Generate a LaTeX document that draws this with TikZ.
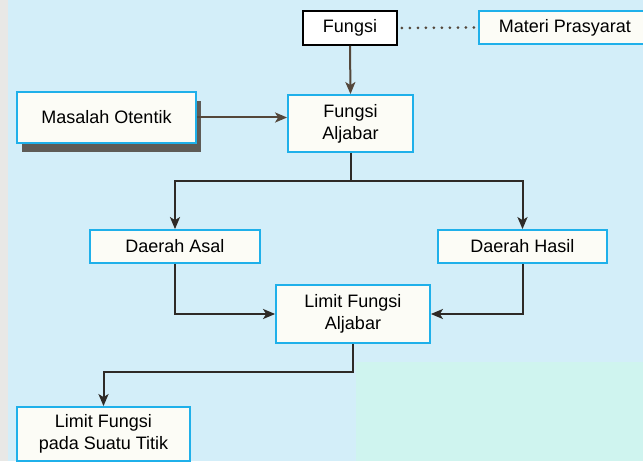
\documentclass[tikz,border=0pt]{standalone}
\usepackage{fontspec}
\setmainfont{Liberation Sans}
\usetikzlibrary{arrows.meta,shadows}
\definecolor{bgblue}{HTML}{D3EEF9}
\definecolor{panelcyan}{HTML}{CFF4EF}
\definecolor{stripgrey}{HTML}{E8E8E6}
\definecolor{boxcyan}{HTML}{1FB0EA}
\definecolor{boxfill}{HTML}{FCFCF6}
\definecolor{linkbrown}{HTML}{54473B}
\definecolor{linkdark}{HTML}{2E2A27}
\definecolor{shadowgrey}{HTML}{5E5B57}
\begin{document}
\begin{tikzpicture}[
   x=1pt,y=1pt,
   box/.style={draw=boxcyan,fill=boxfill,line width=1.8pt,align=center,
     inner sep=0pt,font=\fontsize{18}{22}\selectfont},
   topbox/.style={box,draw=black,fill=white},
   link/.style={draw=linkdark,line width=2pt,
     -{Stealth[length=12pt,width=10pt,inset=3pt,fill=linkdark]}},
   brownlink/.style={draw=linkbrown,line width=2pt,
     -{Stealth[length=12pt,width=10pt,inset=3pt,fill=linkbrown]}}
 ]
  \useasboundingbox (0,0) rectangle (643,461);
  \clip (0,0) rectangle (643,461);
  \fill[bgblue] (0,0) rectangle (643,461);
  \fill[stripgrey] (0,0) rectangle (8,461);
  \fill[panelcyan] (356,0) rectangle (643,99);

  \node[topbox,minimum width=94,minimum height=34] (fungsi) at (350,433) {Fungsi};
  \node[box,minimum width=172,minimum height=33] (materi) at (565,433.5) {Materi Prasyarat};
  \node[box,minimum width=125,minimum height=57] (aljabar) at (350.5,337.5) {Fungsi\\Aljabar};
  \node[box,minimum width=179,minimum height=51,
    drop shadow={shadow xshift=5pt,shadow yshift=-9pt,fill=shadowgrey,opacity=1}]
    (masalah) at (106.5,343.5) {Masalah Otentik};
  \node[box,minimum width=170,minimum height=33] (asal) at (175,214.5) {Daerah Asal};
  \node[box,minimum width=169,minimum height=33] (hasil) at (522.5,214.5) {Daerah Hasil};
  \node[box,minimum width=154,minimum height=58] (limit) at (353,147) {Limit Fungsi\\Aljabar};
  \node[box,minimum width=173,minimum height=54] (titik) at (103.5,27) {Limit Fungsi\\pada Suatu Titik};

  \draw[linkbrown,line width=3pt,line cap=round,dash pattern=on 0pt off 8pt]
    ([xshift=4pt]fungsi.east) -- (materi.west);
  \draw[brownlink] (fungsi.south) -- (aljabar.north);
  \draw[brownlink] (masalah.east) -- (masalah.east -| aljabar.west);

  \coordinate (split) at (aljabar.south |- 0,280);
  \draw[linkdark,line width=2pt] (aljabar.south) -- (split);
  \foreach \b in {asal,hasil}
    \draw[link] (split) -| (\b.north);
  \draw[link] (asal.south) |- (limit.west);
  \draw[link] (hasil.south) |- (limit.east);
  \draw[link] (limit.south) -- ++(0,-28) -| (titik.north);
 \end{tikzpicture}
\end{document}
